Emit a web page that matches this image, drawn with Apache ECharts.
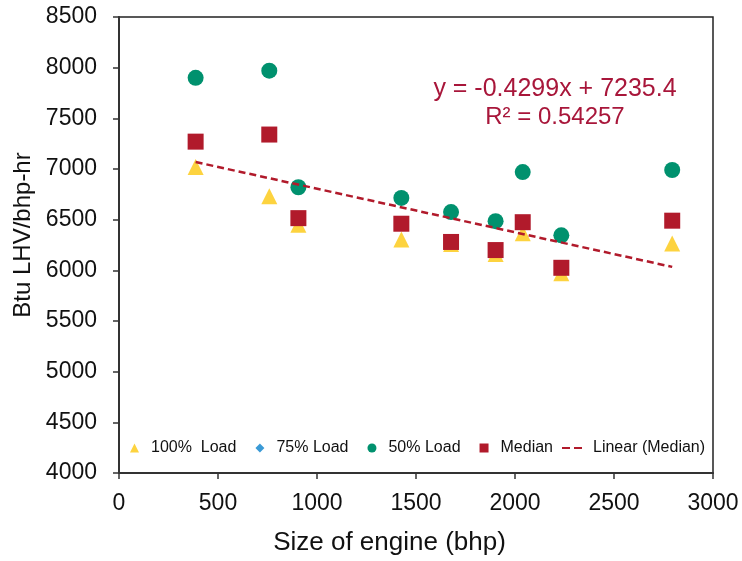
<!DOCTYPE html>
<html>
<head>
<meta charset="utf-8">
<script src="https://cdn.jsdelivr.net/npm/echarts@6/dist/echarts.min.js"></script>
<style>
html,body{margin:0;padding:0;background:#fff;}
#chart{width:742px;height:561px;}
</style>
</head>
<body>
<div id="chart"></div>
<script>
// ---- data ----
var engineSize = [387, 759, 906, 1426, 1677, 1902, 2039, 2234, 2794];
var load100 = [7020, 6730, 6450, 6305, 6260, 6160, 6365, 5970, 6265];
var load75 = [];
var load50 = [7900, 7970, 6820, 6715, 6575, 6485, 6970, 6345, 6990];
var medianVals = [7270, 7340, 6515, 6460, 6280, 6200, 6475, 6025, 6490];
var trendX = [387, 2794];
var trendY = [7069, 6034];
var seriesNames = ['100%  Load', '75% Load', '50% Load', 'Median', 'Linear (Median)'];
var eqLine1 = 'y = -0.4299x + 7235.4';
var eqLine2 = 'R\u00b2 = 0.54257';
var xTitle = 'Size of engine (bhp)';
var yTitle = 'Btu LHV/bhp-hr';

function pairs(xs, ys) {
  var out = [];
  for (var i = 0; i < ys.length; i++) out.push([xs[i], ys[i]]);
  return out;
}

var FONT = "'Liberation Sans', Arial, Helvetica, sans-serif";
var chart = echarts.init(document.getElementById('chart'), null, {renderer: 'canvas'});
var legendText = {fontFamily: FONT, fontSize: 16, color: '#111', padding: [0, 0, 0, 7]};
var option = {
  animation: false,
  backgroundColor: '#fff',
  textStyle: {fontFamily: FONT},
  grid: {left: 119, right: 29, top: 17, bottom: 85, show: true, borderColor: '#222', borderWidth: 1.5},
  legend: [
    {
      left: 130, top: 440, padding: 0,
      itemWidth: 9, itemHeight: 9, itemGap: 19,
      textStyle: legendText,
      data: [
        {name: seriesNames[0], icon: 'triangle'},
        {name: seriesNames[1], icon: 'diamond'},
        {name: seriesNames[2], icon: 'circle'},
        {name: seriesNames[3], icon: 'rect'}
      ]
    },
    {
      left: 562, top: 440, padding: 0,
      itemWidth: 20, itemHeight: 2.5,
      textStyle: {fontFamily: FONT, fontSize: 16, color: '#111', padding: [0, 0, 0, 6]},
      data: [
        {name: seriesNames[4], icon: 'path://M0,0h8v2h-8zM12,0h8v2h-8z'}
      ]
    }
  ],
  xAxis: {
    type: 'value', min: 0, max: 3000, interval: 500,
    name: xTitle, nameLocation: 'middle', nameGap: 57,
    nameTextStyle: {fontFamily: FONT, fontSize: 26, color: '#111', padding: [0, 53, 0, 0]},
    axisLine: {show: true, onZero: false, lineStyle: {color: '#333', width: 2}},
    axisTick: {show: true, inside: false, length: 6, lineStyle: {color: '#333', width: 1.5}},
    axisLabel: {fontFamily: FONT, fontSize: 23, color: '#111', margin: 19,
      formatter: function (v) { return String(v); }},
    splitLine: {show: false}
  },
  yAxis: {
    type: 'value', min: 4000, max: 8500, interval: 500,
    name: yTitle, nameLocation: 'middle', nameGap: 79,
    nameTextStyle: {fontFamily: FONT, fontSize: 24, color: '#111', padding: [0, 0, 0, 20]},
    axisLine: {show: true, onZero: false, lineStyle: {color: '#333', width: 2}},
    axisTick: {show: true, inside: false, length: 6, lineStyle: {color: '#333', width: 1.5}},
    axisLabel: {fontFamily: FONT, fontSize: 23, color: '#111', margin: 22,
      formatter: function (v) { return String(v); }},
    splitLine: {show: false}
  },
  series: [
    {name: seriesNames[0], type: 'scatter', symbol: 'triangle', symbolSize: 16,
     itemStyle: {color: '#fdd33f', opacity: 1}, data: pairs(engineSize, load100)},
    {name: seriesNames[1], type: 'scatter', symbol: 'diamond', symbolSize: 12,
     itemStyle: {color: '#3a9ad6', opacity: 1}, data: pairs(engineSize, load75)},
    {name: seriesNames[2], type: 'scatter', symbol: 'circle', symbolSize: 16,
     itemStyle: {color: '#00916e', opacity: 1}, data: pairs(engineSize, load50)},
    {name: seriesNames[3], type: 'scatter', symbol: 'rect', symbolSize: 16,
     itemStyle: {color: '#b11a2b', opacity: 1}, data: pairs(engineSize, medianVals)},
    {name: seriesNames[4], type: 'line', symbol: 'none', showSymbol: false,
     itemStyle: {color: '#b11a2b'},
     lineStyle: {color: '#b11a2b', width: 2.5, type: [7, 4]},
     data: pairs(trendX, trendY), z: 5}
  ],
  graphic: [
    {type: 'text', x: 555, y: 89, z: 10,
     style: {text: eqLine1, fill: '#a8163a', font: '25px ' + FONT, textAlign: 'center', textVerticalAlign: 'middle'}},
    {type: 'text', x: 555, y: 117, z: 10,
     style: {text: eqLine2, fill: '#a8163a', font: '24px ' + FONT, textAlign: 'center', textVerticalAlign: 'middle'}}
  ]
};
chart.setOption(option);
</script>
</body>
</html>
